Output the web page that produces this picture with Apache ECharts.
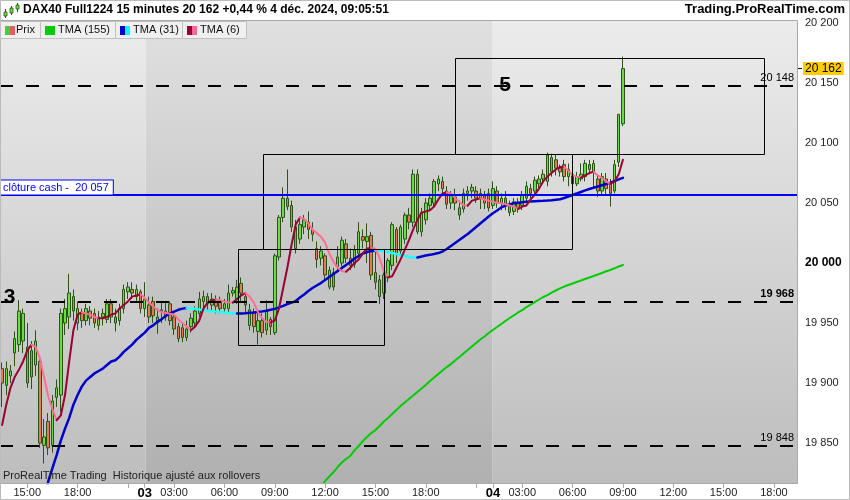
<!DOCTYPE html>
<html><head><meta charset="utf-8">
<script src="https://cdn.jsdelivr.net/npm/echarts@6/dist/echarts.min.js"></script>
<style>html,body{margin:0;padding:0;background:#fff}#c{width:850px;height:500px}</style>
</head><body><div id="c"></div>
<script>
// ---------- DATA ----------
const slotCount = 190; // 15-minute slots on the time axis
const tickSlots  = [6,18,34,41,53,65,77,89,101,117,124,136,148,160,172,184];
const tickLabels = ['15:00','18:00','03','03:00','06:00','09:00','12:00','15:00','18:00','04','03:00','06:00','09:00','12:00','15:00','18:00'];
const minorTickSlots = [30,113];
const sessionBounds = [-0.5, 34.2, 116.95, 189.5];

const opens = [19912,19898,19906,19925,19932,19935,19930,19927,19915,19918,
19848,19868,19848,19888,19890,19950,19955,19972,19950,19958,
19952,19960,19958,19948,19955,19953,19966,19955,19952,19962,
19976,19978,19972,19976,19962,19965,19968,19955,19960,19960,
19966,19955,19947,19946,19938,19947,19950,19958,19968,19972,
19965,19968,19968,19962,19962,19975,19968,19983,19972,19948,
19958,19943,19952,19944,19953,19942,20005,20038,20054,20048,
20030,20020,20030,20034,20028,20012,20004,20006,19980,19992,
19997,20000,20016,20004,19999,20008,20022,20018,20023,19992,
19986,19975,19988,19998,20028,20010,20020,20040,20034,20074,
20026,20036,20048,20050,20066,20068,20060,20050,20055,20046,
20045,20058,20060,20060,20054,20056,20058,20048,20060,20050,
20054,20049,20043,20050,20048,20054,20062,20060,20066,20070,
20068,20088,20086,20079,20082,20072,20074,20066,20070,20072,
20082,20076,20070,20060,20070,20066,20060,20084,20116];
const closes = [19900,19912,19910,19937,19960,19958,19900,19905,19935,19850,
19855,19846,19885,19896,19958,19962,19975,19960,19962,19952,
19962,19954,19950,19955,19958,19966,19955,19950,19962,19978,
19980,19975,19978,19962,19970,19955,19956,19950,19961,19955,
19952,19945,19937,19938,19945,19954,19960,19970,19972,19966,
19970,19964,19962,19966,19975,19977,19980,19975,19965,19961,
19947,19952,19942,19960,19947,20006,20038,20054,20047,20030,
20012,20032,20036,20028,20024,20003,20010,19990,19994,19980,
20005,20019,20004,19998,20011,20026,20019,20022,19990,19984,
19972,19990,20002,20032,20008,20030,20040,20034,20074,20026,
20042,20050,20054,20068,20070,20062,20049,20056,20050,20040,
20058,20060,20063,20054,20058,20050,20046,20062,20050,20054,
20048,20042,20051,20046,20057,20064,20058,20069,20070,20074,
20090,20076,20079,20076,20072,20078,20066,20072,20074,20083,
20078,20083,20060,20072,20062,20058,20082,20124,20162];
const lows = [19880,19890,19900,19914,19926,19925,19896,19895,19906,19846,
19833,19840,19842,19880,19876,19940,19945,19952,19944,19946,
19948,19948,19946,19944,19948,19950,19950,19943,19948,19958,
19970,19970,19968,19958,19955,19950,19950,19941,19950,19952,
19948,19940,19934,19934,19935,19942,19946,19955,19962,19960,
19960,19958,19958,19958,19958,19972,19966,19968,19958,19944,
19942,19932,19938,19940,19940,19940,20002,20034,20044,20026,
20008,20016,20024,20020,20018,19996,19998,19986,19978,19977,
19992,19997,20000,19994,19996,20005,20012,20000,19986,19978,
19966,19970,19984,19994,20000,20006,20016,20028,20030,20024,
20022,20032,20044,20046,20060,20058,20045,20045,20044,20036,
20042,20052,20054,20050,20045,20045,20043,20045,20046,20044,
20044,20039,20040,20042,20044,20050,20054,20056,20062,20066,
20064,20072,20073,20072,20068,20064,20063,20064,20068,20068,
20074,20062,20055,20057,20056,20047,20058,20080,20114];
const highs = [19917,19918,19915,19943,19969,19962,19950,19935,19944,19922,
19870,19875,19890,19903,19962,19970,19991,19978,19968,19962,
19966,19964,19962,19960,19962,19970,19970,19962,19966,19982,
19984,19984,19982,19978,19984,19972,19972,19962,19968,19967,
19968,19958,19950,19950,19952,19958,19964,19976,19977,19975,
19975,19973,19972,19970,19982,19980,19986,19988,19976,19966,
19962,19959,19958,19969,19955,20008,20040,20063,20078,20052,
20036,20038,20040,20043,20034,20018,20014,20008,19997,19996,
20014,20022,20020,20012,20015,20034,20028,20033,20026,20010,
19990,19994,20004,20034,20030,20032,20042,20046,20078,20078,
20046,20054,20058,20070,20073,20072,20064,20060,20062,20052,
20062,20064,20066,20064,20062,20060,20062,20068,20064,20058,
20060,20052,20054,20054,20060,20068,20066,20072,20073,20078,
20092,20091,20090,20082,20086,20083,20078,20076,20083,20086,
20086,20086,20074,20075,20075,20070,20086,20124,20172];

const tma6 = [19865,19882,19896,19905,19911,19918,19927,19932,19930,19921,
19905,19889,19878,19869,19873,19890,19918,19944,19957,19959,
19958,19957,19955,19954,19954,19955,19957,19958,19962,19965,
19968,19972,19973,19974,19971,19967,19964,19961,19959,19958.5,
19957.8,19957,19953,19950,19947,19944,19947,19952,19962,19967,
19969,19969.5,19969,19968,19967.3,19967,19970,19973,19975,19972,
19967,19959,19954,19951,19950.5,19952,19962,19979,19996,20015,
20032,20038,20037,20033,20028,20025,20022,20017,20008,20001,
19996,19993.2,19992.8,19996,20000,20003,20008,20012,20013,20012,
20004,19993,19988,19989,19996,20003,20011,20019,20028,20036,
20042,20043,20044,20047,20053,20058,20059,20058,20054,20051,
20048.2,20047.8,20052,20053,20054,20053,20052,20051,20050.3,20049.9,
20049,20048,20047,20045,20047,20048,20053,20057,20062,20068,
20072,20075,20078,20080,20080.3,20077,20073,20072,20071,20073,
20075,20076,20073,20071,20068,20066,20068,20074,20086];

const tma31Start = 10;
const tma31 = [19802,19818,19829,19840,19852,19862,19871,19882,19890,19897,
19902,19905,19908,19910,19912,19915,19918,19919,19922,19926,
19929,19932,19936,19939,19942,19946,19948,19951,19953,19956,
19958,19959.5,19961,19962,19962.5,19962.2,19961.8,19961.3,19960.8,19960.3,
19959.9,19959.5,19959.1,19958.7,19958.4,19958.1,19957.9,19958.0,19958.2,19958.5,
19958.8,19959.3,19959.7,19960.3,19961,19961.8,19963,19964.3,19965.8,19967,
19968.3,19971.2,19973.8,19976.7,19979.2,19981.3,19983.3,19985.8,19988.3,19990.8,
19993.3,19995.8,19998.3,20000.8,20003.8,20005.8,20007.9,20009.2,20010,20010.3,
20010.2,20009.8,20009.2,20008.3,20007.5,20006.7,20005.8,20005.3,20004.8,20004.6,
20005.4,20006.3,20006.8,20007.5,20008.3,20009.6,20011.7,20014.2,20016.7,20019.2,
20021.7,20024.2,20027.1,20030,20032.9,20035.8,20038.8,20041.4,20043.8,20046.3,
20047.9,20048.9,20049.8,20050.3,20050.7,20051,20051.3,20051.5,20051.7,20051.8,
20052,20052.3,20052.8,20053.2,20054.2,20055.4,20056.7,20057.9,20059.2,20060.5,
20061.7,20062.7,20063.8,20064.8,20065.8,20067,20068.3,20069.7,20071];

const tma155Start = 76;
const tma155 = [19813.5,19818.3,19822.1,19825.8,19830,19833.8,19836.7,19839.2,19843.8,19847.5,19851.7,
19855,19858.3,19860.8,19864.2,19867.9,19870.8,19874.2,19877.5,19880.8,19883.8,
19886.7,19889.6,19892.5,19895.4,19898.3,19901.7,19904.6,19907.5,19910.4,19913.3,
19915.8,19918.8,19921.7,19924.6,19927.5,19930.4,19933.3,19936.3,19938.8,19941.7,
19944.2,19946.7,19949.2,19951.7,19954.2,19956.3,19958.8,19960.8,19963.3,19965.4,
19967.5,19969.6,19971.7,19973.3,19975.4,19977.1,19978.8,19980.4,19981.7,19982.9,
19984.2,19985.4,19986.7,19987.9,19989.2,19990.4,19991.7,19993.1,19994.2,19995.6,
19997.1,19998.3];

const levels = [19968, 19848, 20148];
const levelLabels = ['19 968', '19 848', '20 148'];
const cashClose = 20057;
const cashLabel = 'clôture cash -  20 057';
// [slotStart, slotEnd, priceLow, priceHigh]
const zones = [[56.3,91.1,19931.7,20011.4],[62.3,135.9,20011.7,20090.6],[108,181.7,20090.6,20170.8]];
const zoneTags = [[1.76,19971.7],[119.9,20148.5]];
const zoneTagText = ['3','5'];
const priceTicks = [19850,19900,19950,20000,20050,20100,20150,20200];
const lastPrice = 20162;
const yMin = 19816.7, yMax = 20202.5;

// ---------- CHART ----------
const FONT = '"Liberation Sans", Arial, sans-serif';
const fmt = v => String(v).replace(/\B(?=(\d{3})+(?!\d))/g, ' ');
const categories = Array.from({length: slotCount}, (_, i) => String(i));
const labelMap = new Map(tickSlots.map((s, i) => [s, tickLabels[i]]));
const tickSet = new Set(tickSlots.concat(minorTickSlots));
const candleData = opens.map((o, i) => [o, closes[i], lows[i], highs[i]]);
const pad = (start, vals) => Array(start).fill(null).concat(vals);
const sessions = [];
for (let i = 0; i < sessionBounds.length - 1; i++) sessions.push([sessionBounds[i], sessionBounds[i+1]]);

function trendSeries(full, upColor, downColor, width) {
  const list = [];
  let start = -1, dir = 0;
  const flush = (a, b, d) => {
    list.push({
      type: 'line', xAxisIndex: 0, yAxisIndex: 0, z: 4, silent: true, animation: false,
      data: full.map((v, i) => (i >= a && i <= b ? v : null)),
      showSymbol: false, symbol: 'none', connectNulls: false,
      lineStyle: {color: d > 0 ? upColor : downColor, width: width, cap: 'round', join: 'round'},
      emphasis: {disabled: true}
    });
  };
  for (let i = 0; i < full.length - 1; i++) {
    if (full[i] == null || full[i+1] == null) continue;
    const d = full[i+1] >= full[i] ? 1 : -1;
    if (start < 0) { start = i; dir = d; }
    else if (d !== dir) { flush(start, i, dir); start = i; dir = d; }
  }
  if (start >= 0) flush(start, full.length - 1, dir);
  return list;
}

const legendDefs = [
  {x: 0,   w: 40, text: 'Prix',      c: ['#44cc44', '#e06060'], tx: 16},
  {x: 40,  w: 75, text: 'TMA (155)', c: ['#00cc00', '#00cc00'], tx: 58},
  {x: 115, w: 67, text: 'TMA (31)',  c: ['#0000cc', '#00ffff'], tx: 133},
  {x: 182, w: 64, text: 'TMA (6)',   c: ['#990033', '#ff6699'], tx: 200}
];
const legendGraphics = [];
legendDefs.forEach(d => {
  legendGraphics.push({type: 'rect', z: 100, shape: {x: d.x + 0.5, y: 21.5, width: d.w, height: 17}, style: {fill: '#f0f0f0', stroke: '#c0c0c0'}});
  legendGraphics.push({type: 'text', z: 101, x: d.tx, y: 24, style: {text: d.text, font: '11px ' + FONT, fill: '#111'}});
  legendGraphics.push({type: 'rect', z: 102, shape: {x: d.x + 5, y: 26, width: 5, height: 9}, style: {fill: d.c[0]}});
  legendGraphics.push({type: 'rect', z: 102, shape: {x: d.x + 10, y: 26, width: 5, height: 9}, style: {fill: d.c[1]}});
});

const chart = echarts.init(document.getElementById('c'));
chart.setOption({
  animation: false,
  backgroundColor: '#fff',
  textStyle: {fontFamily: FONT},
  grid: {left: 0, right: 53, top: 20, bottom: 17, containLabel: false},
  xAxis: [{
    type: 'category', data: categories, boundaryGap: true,
    axisLine: {show: true, lineStyle: {color: '#999'}},
    axisTick: {show: true, alignWithLabel: true, length: 5, interval: i => tickSet.has(i), lineStyle: {color: '#aaa'}},
    axisLabel: {
      interval: i => labelMap.has(i), margin: 4, fontSize: 11, color: '#222', fontFamily: FONT,
      formatter: (v, i) => { const t = labelMap.get(Number(v)) || ''; return t.indexOf(':') < 0 ? '{d|' + t + '}' : t; },
      rich: {d: {fontWeight: 'bold', fontSize: 13, color: '#000', fontFamily: FONT}}
    },
    splitLine: {show: false}
  }, {
    type: 'value', min: -0.5, max: slotCount - 0.5, show: false
  }],
  yAxis: [{
    type: 'value', position: 'right', min: yMin, max: yMax,
    axisLine: {show: true, lineStyle: {color: '#999'}},
    axisTick: {show: true, length: 5, customValues: priceTicks, lineStyle: {color: '#999'}},
    axisLabel: {
      customValues: priceTicks, margin: 8, fontSize: 11, color: '#222', fontFamily: FONT,
      formatter: v => v === 20000 ? '{b|' + fmt(v) + '}' : fmt(v),
      rich: {b: {fontWeight: 'bold', fontSize: 12, color: '#000', fontFamily: FONT}}
    },
    splitLine: {show: false}
  }, {
    type: 'value', position: 'right', min: yMin, max: yMax,
    axisLine: {show: false},
    axisTick: {show: true, length: 5, customValues: [lastPrice], lineStyle: {color: '#000'}},
    axisLabel: {customValues: [lastPrice], margin: 6, fontSize: 12, color: '#000', fontFamily: FONT,
      backgroundColor: '#ffcc00', padding: [1, 2, 0, 2], formatter: v => fmt(v)},
    splitLine: {show: false}
  }],
  series: [
    {
      type: 'custom', name: 'sessions', xAxisIndex: 1, yAxisIndex: 0, z: 1, silent: true,
      data: sessions, encode: {x: [0, 1]},
      renderItem: (params, api) => {
        const x0 = api.coord([api.value(0), yMin])[0];
        const x1 = api.coord([api.value(1), yMin])[0];
        const cs = params.coordSys;
        const dark = params.dataIndex % 2 === 1;
        return {type: 'rect', shape: {x: x0, y: cs.y, width: x1 - x0, height: cs.height},
          style: {fill: new echarts.graphic.LinearGradient(0, 0, 0, 1, [
            {offset: 0, color: dark ? '#e0e0e0' : '#ececec'},
            {offset: 1, color: dark ? '#b0b0b0' : '#bdbdbd'}])}};
      }
    },
    {
      type: 'candlestick', name: 'Prix', xAxisIndex: 0, yAxisIndex: 0, z: 3, silent: true,
      data: candleData, barWidth: 3,
      itemStyle: {color: '#66dd44', color0: '#e87858', borderColor: '#2c5416', borderColor0: '#2c5416', borderWidth: 1}
    },
    ...trendSeries(pad(tma155Start, tma155), '#00cc00', '#00cc00', 2),
    ...trendSeries(pad(tma31Start, tma31), '#0000cc', '#22ffff', 2.5),
    ...trendSeries(tma6, '#990033', '#ff6f95', 2),
    {
      type: 'custom', name: 'zones', xAxisIndex: 1, yAxisIndex: 0, z: 5, silent: true, clip: true,
      data: zones, encode: {x: [0, 1], y: [2, 3]},
      renderItem: (params, api) => {
        const p0 = api.coord([api.value(0), api.value(3)]);
        const p1 = api.coord([api.value(1), api.value(2)]);
        return {type: 'rect', shape: {x: Math.round(p0[0]) + 0.5, y: Math.round(p0[1]) + 0.5,
          width: Math.round(p1[0] - p0[0]), height: Math.round(p1[1] - p0[1])},
          style: {fill: null, stroke: '#000', lineWidth: 1}};
      }
    },
    {
      type: 'scatter', name: 'tags', xAxisIndex: 1, yAxisIndex: 0, z: 6, silent: true,
      data: zoneTags, symbolSize: 0, itemStyle: {color: '#000', opacity: 0},
      label: {show: true, position: 'inside', formatter: p => zoneTagText[p.dataIndex],
        fontSize: 21, fontWeight: 'bold', color: '#000', fontFamily: FONT,
        textBorderWidth: 0, textBorderColor: 'transparent', opacity: 1},
      markLine: {
        silent: true, symbol: ['none', 'none'], animation: false,
        data: levels.map((v, i) => ({
          yAxis: v,
          lineStyle: {type: [13, 13], width: 2, color: '#000'},
          label: {show: true, position: 'insideEndTop', formatter: levelLabels[i], distance: [3, 2],
            fontSize: 11, color: '#000', fontWeight: i === 0 ? 'bold' : 'normal', fontFamily: FONT}
        })).concat([{
          yAxis: cashClose,
          lineStyle: {type: 'solid', width: 2, color: '#0000ff'},
          label: {show: true, position: 'insideStartTop', formatter: cashLabel, distance: [0, 0],
            fontSize: 11, color: '#0000ff', fontFamily: FONT, backgroundColor: '#fff',
            borderColor: '#0000ff', borderWidth: 1, padding: [2, 4, 1, 3]}
        }])
      }
    }
  ],
  graphic: [
    {type: 'group', x: 2, y: 3, z: 100, children: [
      {type: 'line', shape: {x1: 3.5, y1: 6, x2: 3.5, y2: 15}, style: {stroke: '#2c5416', lineWidth: 1}},
      {type: 'rect', shape: {x: 2, y: 9, width: 3, height: 4}, style: {fill: '#66dd44', stroke: '#2c5416', lineWidth: 0.8}},
      {type: 'line', shape: {x1: 9.5, y1: 3, x2: 9.5, y2: 12}, style: {stroke: '#2c5416', lineWidth: 1}},
      {type: 'rect', shape: {x: 8, y: 5, width: 3, height: 5}, style: {fill: '#66dd44', stroke: '#2c5416', lineWidth: 0.8}},
      {type: 'line', shape: {x1: 15.5, y1: 0, x2: 15.5, y2: 9}, style: {stroke: '#2c5416', lineWidth: 1}},
      {type: 'rect', shape: {x: 14, y: 2, width: 3, height: 4}, style: {fill: '#66dd44', stroke: '#2c5416', lineWidth: 0.8}}
    ]},
    {type: 'text', z: 100, x: 23, y: 4, style: {text: 'DAX40 Full1224 15 minutes 20 162 +0,44 % 4 déc. 2024, 09:05:51', font: 'bold 12px ' + FONT, fill: '#000'}},
    {type: 'text', z: 100, right: 5, top: 3, style: {text: 'Trading.ProRealTime.com', font: 'bold 13px ' + FONT, fill: '#000'}},
    ...legendGraphics,
    {type: 'text', z: 100, x: 3, y: 470, style: {text: 'ProRealTime Trading  Historique ajusté aux rollovers', font: '11px ' + FONT, fill: '#222'}},
    {type: 'rect', z: 99, shape: {x: 0.5, y: 20.5, width: 797, height: 463}, style: {fill: null, stroke: '#aaa', lineWidth: 1}},
    {type: 'rect', z: 99, shape: {x: 0.5, y: 0.5, width: 849, height: 499}, style: {fill: null, stroke: '#bbb', lineWidth: 1}}
  ]
});
</script>
</body></html>
